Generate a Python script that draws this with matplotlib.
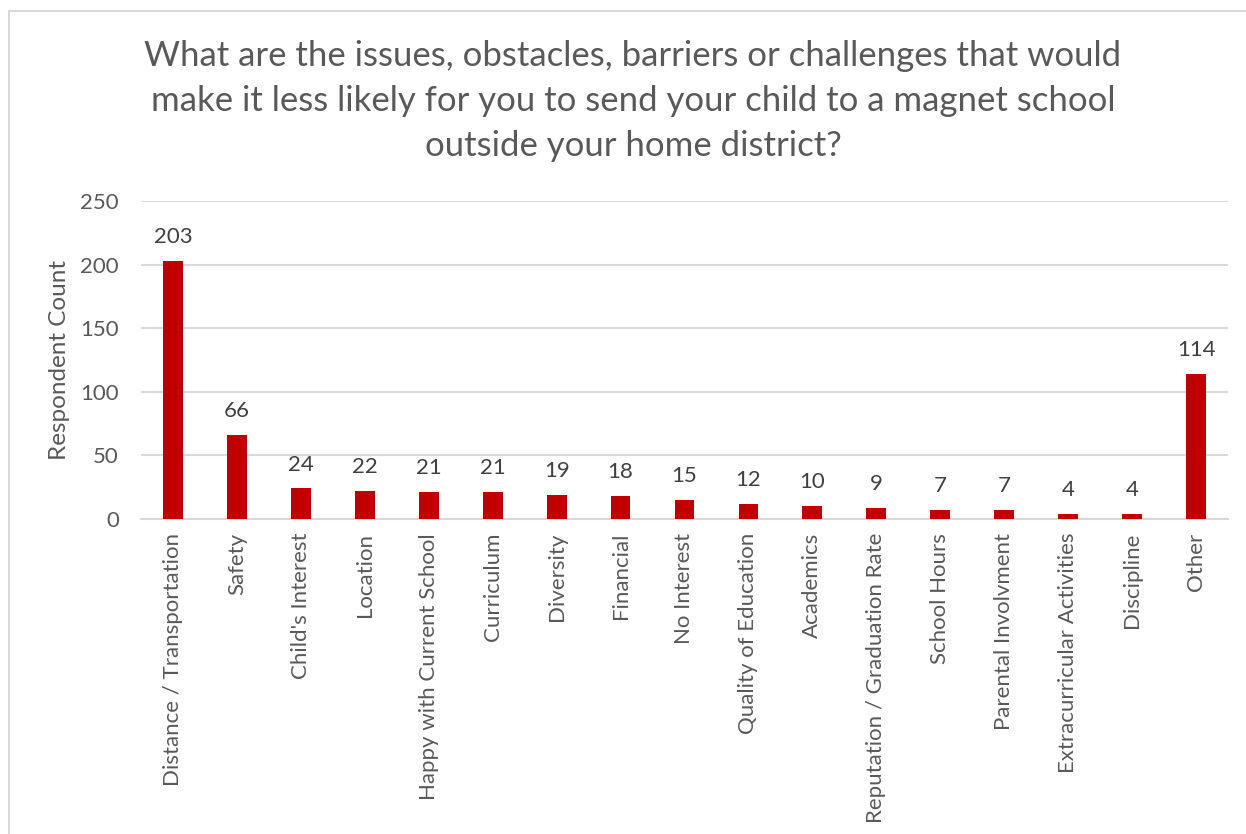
import matplotlib.pyplot as plt
from matplotlib.patches import Rectangle

categories = [
    "Distance / Transportation", "Safety", "Child's Interest", "Location",
    "Happy with Current School", "Curriculum", "Diversity", "Financial",
    "No Interest", "Quality of Education", "Academics",
    "Reputation / Graduation Rate", "School Hours", "Parental Involvment",
    "Extracurricular Activities", "Discipline", "Other",
]
counts = [203, 66, 24, 22, 21, 21, 19, 18, 15, 12, 10, 9, 7, 7, 4, 4, 114]
y_ticks = [0, 50, 100, 150, 200, 250]

title = ("What are the issues, obstacles, barriers or challenges that would\n"
         "make it less likely for you to send your child to a magnet school\n"
         "outside your home district?")

text_grey = "#595959"
grid_grey = "#D9D9D9"
bar_red = "#C00000"

plt.rcParams['font.family'] = ['Lato', 'DejaVu Sans']

W, H = 1246, 834
fig = plt.figure(figsize=(W / 100, H / 100), dpi=100)

# chart border (top and left edges visible, rest cropped)
fig.patches.append(Rectangle((9 / W, -0.1), 1.2, 1 - 11 / H + 0.1,
                             transform=fig.transFigure, fill=False,
                             edgecolor=grid_grey, linewidth=1.5))

ax = fig.add_axes([141 / W, 1 - 519 / H, (1228 - 141) / W, (519 - 201) / H])

x = list(range(len(categories)))
ax.bar(x, counts, width=0.31, color=bar_red, zorder=3)

for xi, v in zip(x, counts):
    ax.annotate(str(v), (xi, v), xytext=(0, 10), textcoords="offset points",
                ha="center", va="bottom", fontsize=16, color="#404040")

ax.set_xlim(-0.5, len(categories) - 0.5)
ax.set_ylim(0, 250)
ax.set_yticks(y_ticks)
ax.set_xticks(x)
ax.set_xticklabels(categories, rotation=90, fontsize=16, color=text_grey)
ax.tick_params(axis='y', labelsize=16, labelcolor=text_grey, length=0, pad=16)
ax.tick_params(axis='x', length=0, pad=10)

ax.grid(axis='y', color=grid_grey, linewidth=1.5, zorder=0)
for side in ["top", "right", "left"]:
    ax.spines[side].set_visible(False)
ax.spines["bottom"].set_color(grid_grey)
ax.spines["bottom"].set_linewidth(1.5)

ax.set_ylabel("Respondent Count", fontsize=17.5, color=text_grey, labelpad=7)

fig.text(633 / W, 1 - 101 / H, title, ha="center", va="center",
         fontsize=25, color=text_grey, linespacing=1.5)

fig.savefig("out.png", dpi=100)
